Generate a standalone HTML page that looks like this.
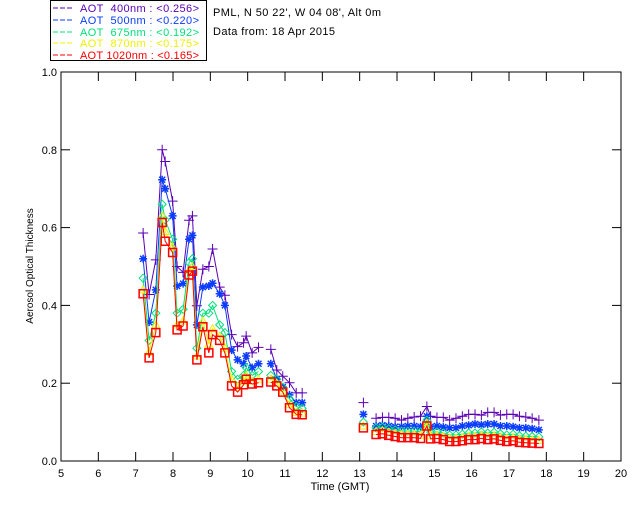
<!DOCTYPE html>
<html><head><meta charset="utf-8"><style>
body{margin:0;background:#fff;}
svg{display:block;font-family:"Liberation Sans",sans-serif;}
</style></head><body>
<svg id="chart" width="640" height="512" viewBox="0 0 640 512">
<rect width="640" height="512" fill="#fff"/>
<g>
<rect x="50.5" y="0.5" width="156" height="60" fill="none" stroke="#000"/>
<g stroke-dasharray="5,2" stroke-width="1">
<line x1="53" x2="74" y1="8" y2="8" stroke="#5a00b4"/>
<line x1="53" x2="74" y1="20" y2="20" stroke="#0a3cff"/>
<line x1="53" x2="74" y1="32" y2="32" stroke="#00e07a"/>
<line x1="53" x2="74" y1="43" y2="43" stroke="#f0f000"/>
<line x1="53" x2="74" y1="55" y2="55" stroke="#ff0000"/>
</g>
<text x="80" y="12" font-size="11" fill="#5a00b4" textLength="119" xml:space="preserve">AOT  400nm : &lt;0.256&gt;</text>
<text x="80" y="24" font-size="11" fill="#0a3cff" textLength="119" xml:space="preserve">AOT  500nm : &lt;0.220&gt;</text>
<text x="80" y="36" font-size="11" fill="#00e07a" textLength="119" xml:space="preserve">AOT  675nm : &lt;0.192&gt;</text>
<text x="80" y="47" font-size="11" fill="#f0f000" textLength="119" xml:space="preserve">AOT  870nm : &lt;0.175&gt;</text>
<text x="80" y="59" font-size="11" fill="#ff0000" textLength="119" xml:space="preserve">AOT 1020nm : &lt;0.165&gt;</text>
</g>
<text x="213" y="16" font-size="11" textLength="168">PML, N 50 22', W 04 08', Alt 0m</text>
<text x="213" y="35" font-size="11" textLength="122">Data from: 18 Apr 2015</text>
<rect x="61" y="72" width="560" height="389" fill="none" stroke="#000"/>
<g id="axes"></g>
<g id="marks"></g>
<text x="340" y="490" font-size="11" text-anchor="middle">Time (GMT)</text>
<text transform="translate(33,266) rotate(-90)" font-size="10" text-anchor="middle">Aerosol Optical Thickness</text>
</svg>
<script>
const times = [7.20,7.36,7.54,7.71,7.79,7.99,8.11,8.27,8.43,8.52,8.64,8.80,8.96,9.06,9.25,9.39,9.57,9.73,9.89,9.96,10.12,10.29,10.62,10.78,10.94,11.12,11.30,11.46,
13.10,
13.44,13.61,13.78,13.95,14.12,14.29,14.46,14.63,14.80,14.90,15.07,15.24,15.41,15.58,15.75,15.92,16.09,16.26,16.43,16.60,16.77,16.94,17.11,17.28,17.45,17.62,17.80];
const aot400 = [0.586,0.428,0.517,0.80,0.77,0.668,0.50,0.485,0.619,0.63,0.399,0.493,0.50,0.545,0.447,0.426,0.325,0.294,0.304,0.321,0.278,0.292,0.287,0.234,0.218,0.201,0.175,0.175,
0.15,
0.11,0.112,0.112,0.11,0.105,0.11,0.113,0.115,0.14,0.115,0.112,0.112,0.105,0.11,0.115,0.12,0.12,0.118,0.125,0.125,0.118,0.12,0.12,0.115,0.113,0.11,0.105];
const aot500 = [0.52,0.357,0.44,0.723,0.70,0.63,0.45,0.456,0.57,0.58,0.35,0.447,0.45,0.457,0.43,0.40,0.285,0.26,0.25,0.27,0.24,0.25,0.25,0.21,0.19,0.17,0.15,0.15,
0.12,
0.09,0.092,0.09,0.088,0.088,0.09,0.09,0.088,0.115,0.088,0.09,0.087,0.085,0.085,0.09,0.092,0.095,0.093,0.095,0.095,0.09,0.09,0.088,0.085,0.085,0.083,0.08];
const aot675 = [0.47,0.31,0.38,0.66,0.62,0.57,0.38,0.39,0.51,0.52,0.29,0.38,0.38,0.40,0.35,0.33,0.23,0.21,0.22,0.24,0.22,0.23,0.22,0.21,0.19,0.16,0.14,0.135,
0.10,
0.085,0.087,0.083,0.08,0.077,0.077,0.077,0.075,0.105,0.074,0.075,0.072,0.067,0.067,0.069,0.072,0.072,0.075,0.072,0.074,0.07,0.067,0.069,0.065,0.064,0.063,0.062];
const aot870 = [0.44,0.28,0.35,0.63,0.59,0.55,0.35,0.36,0.49,0.50,0.27,0.36,0.30,0.34,0.32,0.29,0.21,0.19,0.205,0.22,0.205,0.21,0.21,0.20,0.18,0.145,0.125,0.123,
0.09,
0.076,0.078,0.074,0.071,0.068,0.068,0.068,0.066,0.098,0.065,0.066,0.063,0.058,0.058,0.06,0.063,0.063,0.066,0.063,0.065,0.061,0.058,0.06,0.056,0.055,0.054,0.053];
const aot1020 = [0.43,0.265,0.33,0.613,0.565,0.536,0.337,0.347,0.478,0.488,0.26,0.345,0.278,0.325,0.31,0.278,0.193,0.177,0.196,0.21,0.198,0.201,0.203,0.193,0.177,0.137,0.12,0.119,
0.085,
0.068,0.07,0.066,0.063,0.06,0.06,0.06,0.058,0.09,0.057,0.058,0.055,0.05,0.05,0.052,0.055,0.055,0.058,0.055,0.057,0.053,0.05,0.052,0.048,0.047,0.046,0.045];
const xTicks = [5,6,7,8,9,10,11,12,13,14,15,16,17,18,19,20];
const yTicks = [0.0,0.2,0.4,0.6,0.8,1.0];

const X0=61,X1=621,Y0=461,Y1=72;
const sx = t => X0 + (t-5)/15*(X1-X0);
const sy = v => Y0 - v*(Y0-Y1);
const NS='http://www.w3.org/2000/svg';
const axes=document.getElementById('axes'), marks=document.getElementById('marks');
function mk(tag, attrs, parent){const e=document.createElementNS(NS,tag);for(const k in attrs)e.setAttribute(k,attrs[k]);parent.appendChild(e);return e;}

xTicks.forEach(t=>{
  const x=sx(t);
  const l=mk('line',{x1:x,x2:x,y1:Y0,y2:Y0-9,stroke:'#000'},axes);
  
  
  const l2=mk('line',{x1:x,x2:x,y1:Y1,y2:Y1+9,stroke:'#000'},axes);
  
  
  const tx=mk('text',{x:x,y:Y0+16,'font-size':11,'text-anchor':'middle'},axes);
  tx.textContent=t;
  
  
});
yTicks.forEach(v=>{
  const y=sy(v);
  const l=mk('line',{x1:X0,x2:X0+9,y1:y,y2:y,stroke:'#000'},axes);
  
  
  const l2=mk('line',{x1:X1,x2:X1-9,y1:y,y2:y,stroke:'#000'},axes);
  
  
  const tx=mk('text',{x:X0-4,y:y+4,'font-size':11,'text-anchor':'end'},axes);
  tx.textContent=v.toFixed(1);
  
  
});

const series=[
 {name:'400',vals:aot400,color:'#5a00b4',m:'plus'},
 {name:'500',vals:aot500,color:'#0a3cff',m:'star'},
 {name:'675',vals:aot675,color:'#00e07a',m:'diamond'},
 {name:'870',vals:aot870,color:'#f0f000',m:'tri'},
 {name:'1020',vals:aot1020,color:'#ff0000',m:'square'}
];
series.forEach(s=>{
  const g=mk('g',{},marks);
  
  
  let d='';
  times.forEach((t,i)=>{
    const cmd=(i===0||t-times[i-1]>0.3)?'M':'L';
    d+=cmd+sx(t).toFixed(1)+' '+sy(s.vals[i]).toFixed(1)+' ';
  });
  const p=mk('path',{d:d,fill:'none',stroke:s.color,'stroke-width':1},g);
  
  
  times.forEach((t,i)=>{
    const x=sx(t),y=sy(s.vals[i]);let md;
    if(s.m==='plus')md=`M${x-5} ${y}H${x+5}M${x} ${y-5}V${y+5}`;
    else if(s.m==='star')md=`M${x-4} ${y}H${x+4}M${x} ${y-4}V${y+4}M${x-3} ${y-3}L${x+3} ${y+3}M${x-3} ${y+3}L${x+3} ${y-3}`;
    else if(s.m==='diamond')md=`M${x} ${y-4}L${x+4} ${y}L${x} ${y+4}L${x-4} ${y}Z`;
    else if(s.m==='tri')md=`M${x} ${y-4}L${x+4} ${y+3}L${x-4} ${y+3}Z`;
    else md=`M${x-4} ${y-4}H${x+4}V${y+4}H${x-4}Z`;
    const m=mk('path',{d:md,fill:'none',stroke:s.color,'stroke-width':s.m==='square'||s.m==='star'?1.5:1},g);
    
    
  });
});
</script>
</body></html>
